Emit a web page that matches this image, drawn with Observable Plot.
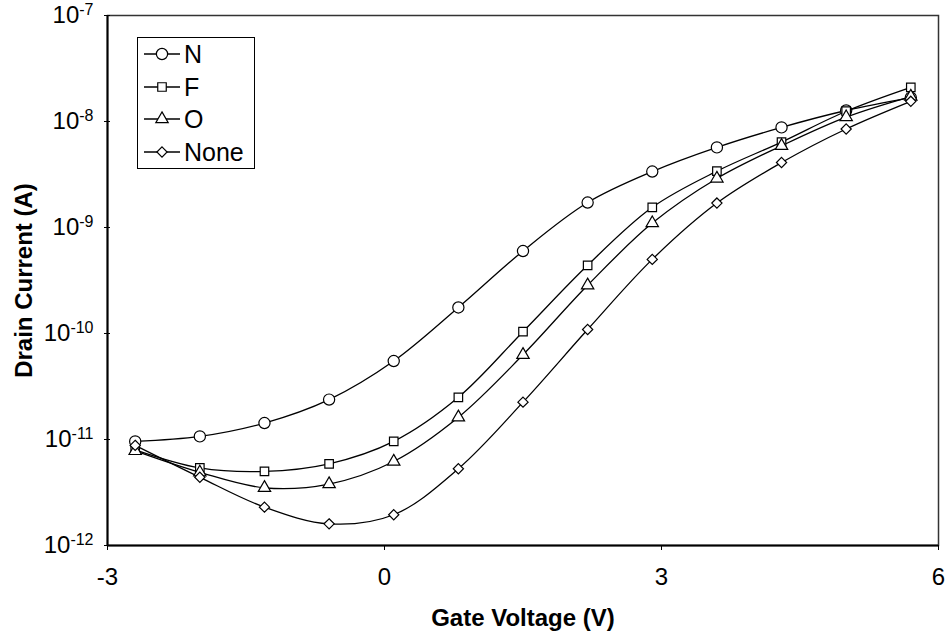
<!DOCTYPE html>
<html><head><meta charset="utf-8">
<script src="https://cdn.jsdelivr.net/npm/d3@7"></script>
<script src="https://cdn.jsdelivr.net/npm/@observablehq/plot@0.6"></script>
<style>
body{margin:0;background:#fff;font-family:"Liberation Sans",Arial,sans-serif}
#wrap{position:relative;width:950px;height:632px}
#legend{position:absolute;left:137px;top:37px;width:118px;height:132px;border:1.5px solid #000;background:#fff;box-sizing:border-box}
.row{position:absolute;left:5px;height:32px;display:flex;align-items:center}
.row span{font-size:25px;margin-left:3px;color:#000;line-height:32px}
</style></head>
<body><div id="wrap"><div id="chart"></div><div id="legend"></div></div>
<script>
const gateVoltage = [-2.7,-2.0,-1.3,-0.6,0.1,0.8,1.5,2.2,2.9,3.6,4.3,5.0,5.7];
const currentN    = [9.6e-12,1.07e-11,1.43e-11,2.38e-11,5.5e-11,1.76e-10,6.0e-10,1.72e-9,3.37e-9,5.7e-9,8.8e-9,1.27e-8,1.68e-8];
const currentF    = [8.0e-12,5.4e-12,5.0e-12,5.9e-12,9.6e-12,2.5e-11,1.04e-10,4.4e-10,1.55e-9,3.4e-9,6.4e-9,1.25e-8,2.1e-8];
const currentO    = [7.8e-12,4.9e-12,3.5e-12,3.8e-12,6.2e-12,1.62e-11,6.3e-11,2.85e-10,1.1e-9,2.9e-9,5.9e-9,1.1e-8,1.72e-8];
const currentNone = [8.8e-12,4.4e-12,2.3e-12,1.6e-12,1.95e-12,5.3e-12,2.25e-11,1.09e-10,5.0e-10,1.7e-9,4.1e-9,8.5e-9,1.55e-8];
const seriesNames   = ["N","F","O","None"];
const seriesSymbols = ["circle","square","triangle","diamond2"];
const seriesRadius  = [5.6,4.8,4.6,4.6];
const xTicks = [-3,0,3,6];
const yTicks = [1e-12,1e-11,1e-10,1e-9,1e-8,1e-7];
const xLabel = "Gate Voltage (V)";
const yLabel = "Drain Current (A)";

const seriesValues = [currentN,currentF,currentO,currentNone];
const rows = seriesNames.map((s,i)=>gateVoltage.map((v,j)=>({series:s,v,c:seriesValues[i][j]})));

const lineMarks = rows.map(r=>Plot.line(r,{x:"v",y:"c",curve:"catmull-rom",stroke:"#000",strokeWidth:1.3}));
const dotMarks = rows.map((r,i)=>Plot.dot(r,{x:"v",y:"c",symbol:()=>seriesNames[i],r:seriesRadius[i],fill:"#fff",stroke:"#000",strokeWidth:1.2}));

const chart = Plot.plot({
  width:950,height:632,
  marginLeft:107,marginRight:12,marginTop:15,marginBottom:87,
  style:{fontFamily:"'Liberation Sans',Arial,sans-serif",fontSize:"24px",color:"#000",background:"#fff"},
  x:{domain:[-3,6]},
  y:{type:"log",domain:[1e-12,1e-7]},
  symbol:{domain:seriesNames,range:seriesSymbols},
  marks:[
    Plot.frame({stroke:"#333",strokeWidth:1.5}),
    Plot.axisX({ticks:xTicks,tickSize:5,tickPadding:17,tickFormat:d=>String(d),label:null,fontSize:24,stroke:"#000"}),
    Plot.axisY({ticks:yTicks,tickSize:6,dx:3,tickPadding:11,tickFormat:d=>"10|"+Math.round(Math.log10(d)),label:null,fontSize:24,stroke:"#000"}),
    Plot.ruleX([xTicks[0]],{stroke:"#000",strokeWidth:2}),
    Plot.ruleY([yTicks[0]],{stroke:"#000",strokeWidth:2}),
    ...lineMarks,
    ...dotMarks,
    Plot.text([xLabel],{frameAnchor:"bottom",dy:73,lineAnchor:"middle",textAnchor:"middle",fontWeight:"bold",fontSize:24,text:d=>d}),
    Plot.text([yLabel],{frameAnchor:"left",dx:-83,rotate:-90,lineAnchor:"middle",textAnchor:"middle",fontWeight:"bold",fontSize:24,text:d=>d})
  ]
});
document.getElementById("chart").appendChild(chart);

// superscript exponents in y tick labels
d3.select(chart).selectAll('g[aria-label="y-axis tick label"] text').each(function(){
  const t=d3.select(this); const parts=t.text().split("|");
  t.text(null);
  t.append("tspan").text(parts[0]);
  t.append("tspan").attr("dy","-0.5em").attr("font-size","16px").text(parts[1]);
});

// legend
const leg=d3.select("#legend");
const symMap={circle:d3.symbolCircle,square:d3.symbolSquare,triangle:d3.symbolTriangle,diamond2:d3.symbolDiamond2};
seriesNames.forEach((s,i)=>{
  const row=leg.append("div").attr("class","row").style("top",(i*32.7)+"px");
  const svg=row.append("svg").attr("width",38).attr("height",20);
  svg.append("line").attr("x1",1).attr("x2",37).attr("y1",10).attr("y2",10).attr("stroke","#000").attr("stroke-width",1.3);
  svg.append("path").attr("transform","translate(19,10)")
    .attr("d",d3.symbol(symMap[seriesSymbols[i]],Math.PI*seriesRadius[i]*seriesRadius[i])())
    .attr("fill","#fff").attr("stroke","#000").attr("stroke-width",1.2);
  row.append("span").text(s);
});
</script></body></html>
